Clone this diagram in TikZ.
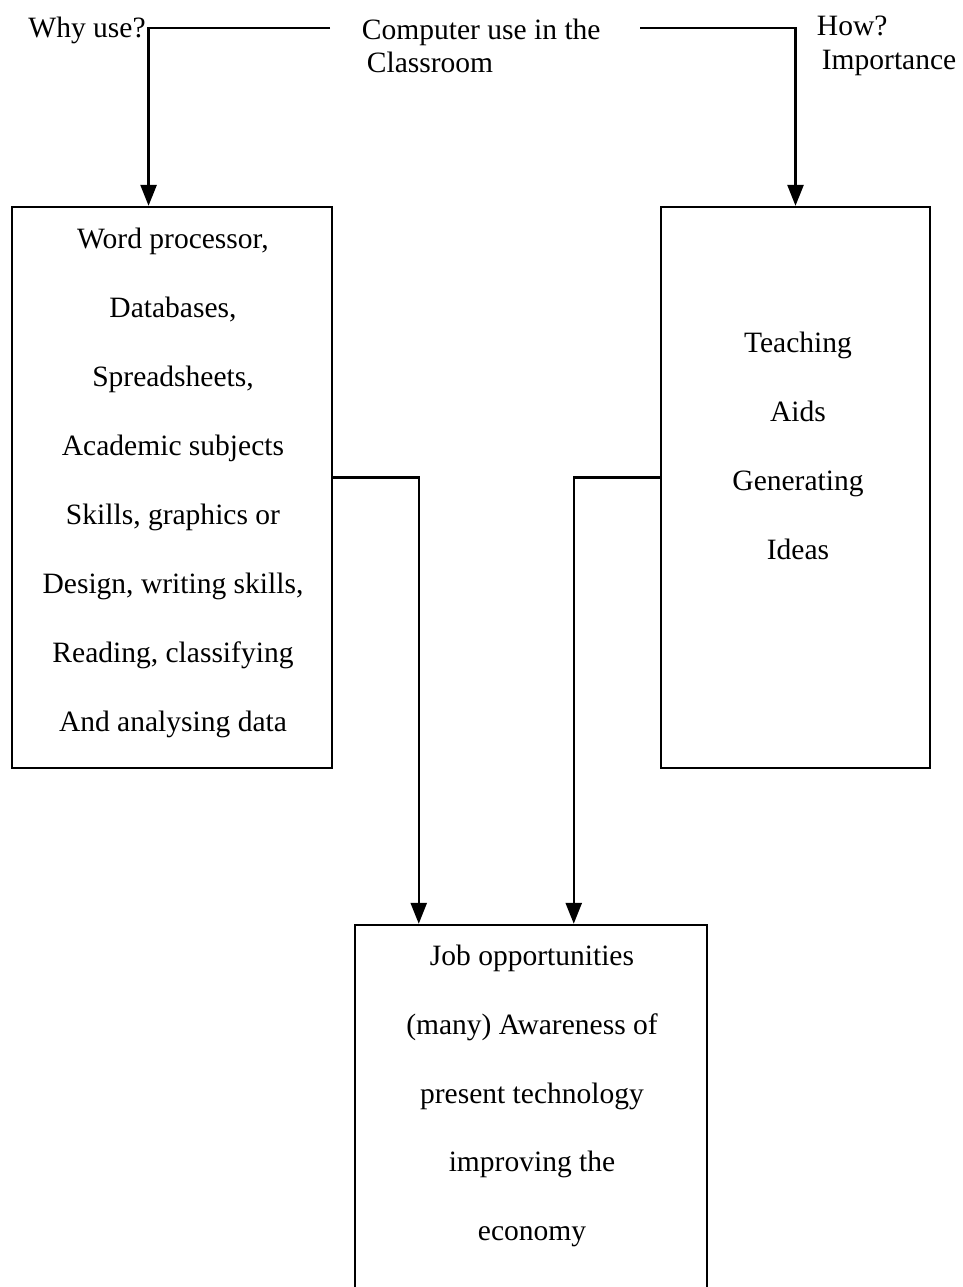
\documentclass[tikz,border=0pt]{standalone}
\usepackage{fontspec}
\setmainfont{Liberation Serif}
\usetikzlibrary{arrows.meta,calc}

\begin{document}
\begin{tikzpicture}[x=0.4065pt,y=-0.4065pt,
    box/.style={draw,line width=1pt,inner sep=0pt},
    list/.style={align=center,font=\fontsize{12pt}{28pt}\selectfont,inner sep=0pt},
    head/.style={align=left,font=\fontsize{12pt}{13.6pt}\selectfont,inner sep=1pt},
    link/.style={line width=1pt,-{Triangle[width=6.5pt,length=8.5pt]}}]
  \path[use as bounding box,clip] (0,0) rectangle (962,1287);

  \node[head] (why) at (87,30) {Why use?};
  \node[head,anchor=west] (title) at (359,46) {Computer use in the\\\hspace{2pt}Classroom};
  \node[head,anchor=west] (how) at (814,46) {How?\\\hspace{2pt}Importance};
  \coordinate (titleL) at (330,28);
  \coordinate (titleR) at (640,28);

  \node[box,minimum width=130.1pt,minimum height=228pt] (wordbox) at (172,487.5) {};
  \node[box,minimum width=109.3pt,minimum height=228pt] (ideabox) at (795.5,487.5) {};
  \node[box,minimum width=143.1pt,minimum height=162.6pt] (jobbox) at (531,1125) {};

  \node[list] (wordtext) at (173,483) {Word processor,\\Databases,\\Spreadsheets,\\Academic subjects\\Skills, graphics or\\Design, writing skills,\\Reading, classifying\\And analysing data};
  \node[list] (ideatext) at (798,446) {Teaching\\Aids\\Generating\\Ideas};
  \node[list] (jobtext) at (532,1096) {Job opportunities\\(many) Awareness of\\present technology\\improving the\\economy};

  \draw[link] (titleL) -| (wordbox.north -| why.east);
  \draw[link] (titleR) -| (ideabox.north);
  \draw[link] ($(wordbox.east)+(0,-10)$) -| ($(jobbox.north west)+(65,0)$);
  \draw[link] ($(ideabox.west)+(0,-10)$) -| ($(jobbox.north west)+(220,0)$);
\end{tikzpicture}
\end{document}
